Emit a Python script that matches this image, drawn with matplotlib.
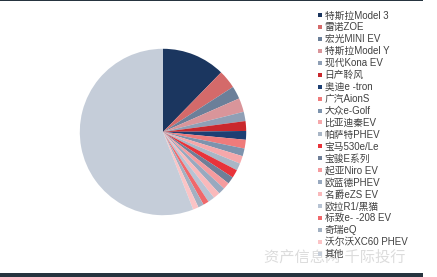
import matplotlib
matplotlib.use("Agg")
import matplotlib.pyplot as plt
from matplotlib.lines import Line2D

plt.rcParams['font.family'] = ['Liberation Sans', 'Noto Sans CJK SC', 'DejaVu Sans']

# 车型销量占比 (%)
models = ['特斯拉Model 3', '雷诺ZOE', '宏光MINI EV', '特斯拉Model Y', '现代Kona EV',
          '日产聆风', '奥迪e -tron', '广汽AionS', '大众e-Golf', '比亚迪秦EV',
          '帕萨特PHEV', '宝马530e/Le', '宝骏E系列', '起亚Niro EV', '欧蓝德PHEV',
          '名爵eZS EV', '欧拉R1/黑猫', '标致e- -208 EV', '奇瑞eQ', '沃尔沃XC60 PHEV', '其他']
shares = [12.3, 3.6, 2.5, 2.7, 1.8, 1.9, 1.7, 1.7, 1.5, 1.5,
          1.4, 1.6, 1.4, 1.3, 1.3, 1.3, 1.3, 1.1, 1.1, 1.1, 55.9]
colors = ['#1b365f', '#d46a6a', '#6b7f99', '#d9959a', '#8f9fb5',
          '#c9282d', '#1d3f73', '#ef7b7b', '#7d93ad', '#f5a8ab',
          '#a9b6c6', '#e8333a', '#6f7f98', '#f59c9f', '#98a9bf',
          '#f9b9bb', '#b7c3d3', '#f0686b', '#a3b1c2', '#fbc4c6', '#c5cdd9']

fig = plt.figure(figsize=(4.37, 2.77), dpi=100)
fig.patch.set_facecolor('white')

ax = fig.add_axes([0.135, 0.148, 0.476, 0.751])
ax.pie(shares, colors=colors, startangle=90, counterclock=False,
       wedgeprops=dict(linewidth=0))
ax.set_aspect('equal')

# 水印
fig.text(0.605, 0.055, '资产信息网 千际投行', fontsize=11, color='#dcdcdc')

handles = [Line2D([], [], marker='s', linestyle='none', markersize=3.2,
                  markerfacecolor=c, markeredgewidth=0) for c in colors]
fig.legend(handles, models, loc='upper left', bbox_to_anchor=(0.715, 0.98),
           frameon=False, fontsize=7, labelspacing=0.2, handlelength=0.45,
           handletextpad=0.3, borderpad=0, labelcolor='#404040')

# 上下深色边条
fig.add_artist(plt.Rectangle((0, 0.995), 0.968, 0.005, transform=fig.transFigure,
                             color='#26343f', linewidth=0))
fig.add_artist(plt.Rectangle((0, 0), 0.968, 0.014, transform=fig.transFigure,
                             color='#26343f', linewidth=0))

fig.savefig('out.png', dpi=100)
